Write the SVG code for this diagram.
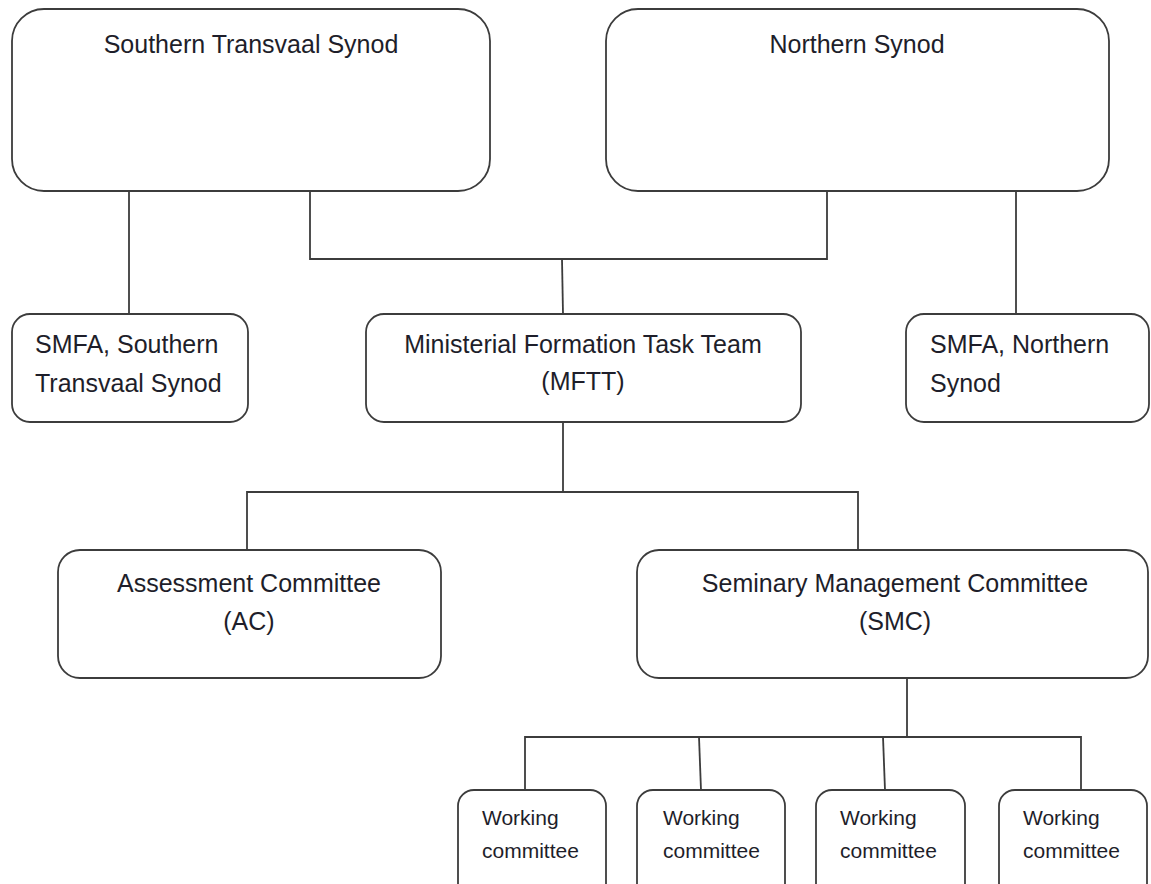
<svg xmlns="http://www.w3.org/2000/svg" width="1151" height="884" viewBox="0 0 1151 884">
<style>
.box{fill:#ffffff;stroke:#3c3c3c;stroke-width:1.8}
.con{fill:none;stroke:#3c3c3c;stroke-width:1.8}
.t{font-family:"Liberation Sans",Arial,sans-serif;font-size:25px;fill:#1e1e2a}
.c{text-anchor:middle}
.s{font-family:"Liberation Sans",Arial,sans-serif;font-size:21px;fill:#1e1e2a}
</style>
<rect width="1151" height="884" fill="#ffffff"/>
<g id="connectors">
<path class="con" d="M129,191 V314"/>
<path class="con" d="M310,191 V259 H827 V191"/>
<path class="con" d="M562,259 L563,314"/>
<path class="con" d="M1016,191 V314"/>
<path class="con" d="M563,422 V492"/>
<path class="con" d="M247,550 V492 H858 V550"/>
<path class="con" d="M907,678 V737"/>
<path class="con" d="M525,790 V737 H1081 V790"/>
<path class="con" d="M699,737 L701,790"/>
<path class="con" d="M883,737 L885,790"/>
</g>
<g id="southern-transvaal-synod">
<rect class="box" x="12" y="9" width="478" height="182" rx="32"/>
<text class="t c" x="251" y="53">Southern Transvaal Synod</text>
</g>
<g id="northern-synod">
<rect class="box" x="606" y="9" width="503" height="182" rx="32"/>
<text class="t c" x="857" y="53">Northern Synod</text>
</g>
<g id="smfa-southern">
<rect class="box" x="12" y="314" width="236" height="108" rx="18"/>
<text class="t" x="35" y="353">SMFA, Southern</text>
<text class="t" x="35" y="392">Transvaal Synod</text>
</g>
<g id="mftt">
<rect class="box" x="366" y="314" width="435" height="108" rx="18"/>
<text class="t c" x="583" y="353">Ministerial Formation Task Team</text>
<text class="t c" x="583" y="390">(MFTT)</text>
</g>
<g id="smfa-northern">
<rect class="box" x="906" y="314" width="243" height="108" rx="18"/>
<text class="t" x="930" y="353">SMFA, Northern</text>
<text class="t" x="930" y="392">Synod</text>
</g>
<g id="ac">
<rect class="box" x="58" y="550" width="383" height="128" rx="22"/>
<text class="t c" x="249" y="592">Assessment Committee</text>
<text class="t c" x="249" y="630">(AC)</text>
</g>
<g id="smc">
<rect class="box" x="637" y="550" width="511" height="128" rx="22"/>
<text class="t c" x="895" y="592">Seminary Management Committee</text>
<text class="t c" x="895" y="630">(SMC)</text>
</g>
<g id="wc1">
<rect class="box" x="458" y="790" width="148" height="120" rx="16"/>
<text class="s" x="482" y="825">Working</text>
<text class="s" x="482" y="858">committee</text>
</g>
<g id="wc2">
<rect class="box" x="637" y="790" width="148" height="120" rx="16"/>
<text class="s" x="663" y="825">Working</text>
<text class="s" x="663" y="858">committee</text>
</g>
<g id="wc3">
<rect class="box" x="816" y="790" width="149" height="120" rx="16"/>
<text class="s" x="840" y="825">Working</text>
<text class="s" x="840" y="858">committee</text>
</g>
<g id="wc4">
<rect class="box" x="999" y="790" width="148" height="120" rx="16"/>
<text class="s" x="1023" y="825">Working</text>
<text class="s" x="1023" y="858">committee</text>
</g>
</svg>
